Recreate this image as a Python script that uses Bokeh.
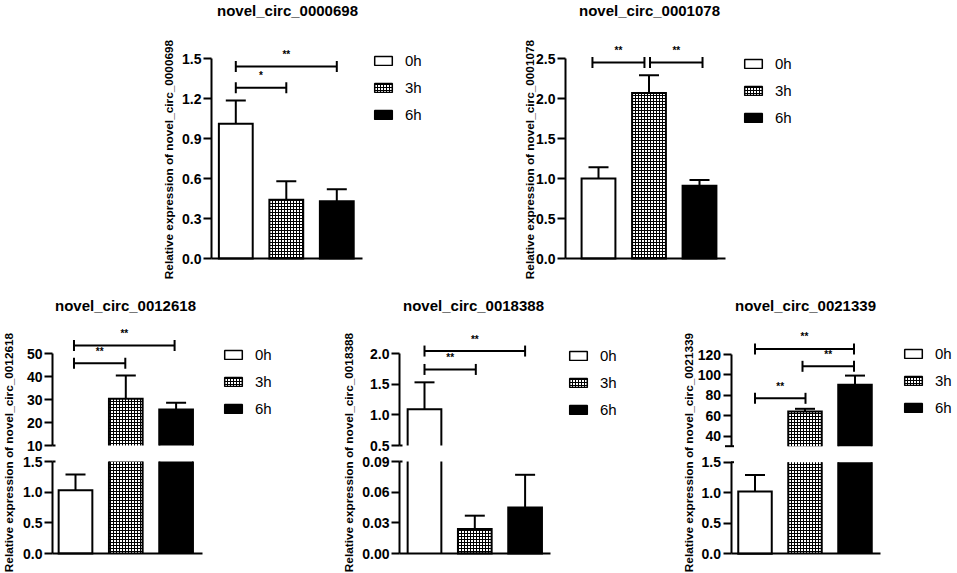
import numpy as np
from bokeh.plotting import figure
from bokeh.models import (Range1d, LinearAxis, FixedTicker, NumeralTickFormatter, Whisker,
                          TeeHead, ColumnDataSource, Legend, LegendItem)
from bokeh.core.properties import value
from bokeh.embed import file_html
from bokeh.resources import INLINE

# ---------------- data ----------------
groups = ["0h", "3h", "6h"]
group_pos = [1, 2, 3]

genes = ["novel_circ_0000698", "novel_circ_0001078", "novel_circ_0012618",
         "novel_circ_0018388", "novel_circ_0021339"]

mean_0000698 = [1.01, 0.44, 0.43]
sem_0000698 = [0.175, 0.14, 0.09]
mean_0001078 = [1.00, 2.07, 0.91]
sem_0001078 = [0.14, 0.22, 0.07]
mean_0012618 = [1.03, 30.3, 25.6]
sem_0012618 = [0.26, 10.1, 3.0]
mean_0018388 = [1.09, 0.024, 0.045]
sem_0018388 = [0.44, 0.013, 0.032]
mean_0021339 = [1.02, 64.0, 90.2]
sem_0021339 = [0.27, 2.7, 9.1]

# y ticks (broken axes: low / high segment) and their number formats
ticks_0000698 = [0, 0.3, 0.6, 0.9, 1.2, 1.5]
ticks_0001078 = [0, 0.5, 1.0, 1.5, 2.0, 2.5]
ticks_0012618_low = [0, 0.5, 1.0, 1.5]
ticks_0012618_high = [10, 20, 30, 40, 50]
ticks_0018388_low = [0, 0.03, 0.06, 0.09]
ticks_0018388_high = [0.5, 1.0, 1.5, 2.0]
ticks_0021339_low = [0, 0.5, 1.0, 1.5]
ticks_0021339_high = [40, 60, 80, 100, 120]
fmt_one = "0.0"
fmt_two = "0.00"
fmt_int = "0"

# significance brackets (from group, to group, height, label)
sig_0000698_from = [1, 1]
sig_0000698_to = [3, 2]
sig_0000698_y = [1.44, 1.28]
sig_0000698_text = ["**", "*"]
sig_0001078_from = [0.88, 2.02]
sig_0001078_to = [1.91, 3.06]
sig_0001078_y = [2.45, 2.45]
sig_0001078_text = ["**", "**"]
sig_0012618_from = [0.97, 0.97]
sig_0012618_to = [2.97, 1.99]
sig_0012618_y = [53.5, 45.8]
sig_0012618_text = ["**", "**"]
sig_0018388_from = [1, 1]
sig_0018388_to = [3, 2.02]
sig_0018388_y = [2.04, 1.74]
sig_0018388_text = ["**", "**"]
sig_0021339_from = [1, 1.95, 1]
sig_0021339_to = [2.98, 2.98, 2.01]
sig_0021339_y = [125.5, 108.4, 77.0]
sig_0021339_text = ["**", "**", "**"]

# ---------------- canvas ----------------
W, H = 957, 573
FONT = "Liberation Sans"

p = figure(width=W, height=H, output_backend="svg", toolbar_location=None,
           x_range=Range1d(0, W), y_range=Range1d(H, 0),
           x_axis_type=None, y_axis_type=None, title=None, min_border=0,
           outline_line_color=None, background_fill_color="white")

BW = 0.67
STYLES = [dict(fill_color="white"),
          dict(fill_color="white", hatch_pattern="cross", hatch_color="black",
               hatch_scale=3, hatch_weight=1),
          dict(fill_color="black")]
AXIS_STYLE = dict(axis_line_width=2, axis_line_color="black", major_tick_line_width=2,
                  major_tick_line_color="black", major_tick_in=0, major_tick_out=8,
                  minor_tick_line_color=None, major_label_standoff=2,
                  major_label_text_font=FONT, major_label_text_font_style="bold",
                  major_label_text_font_size="14px", major_label_text_color="black")


def x_range_for(c0, s):
    return Range1d(1 - c0 / s, 1 + (W - c0) / s)


def y_range_for(v0, py0, v1, py1):
    k = (py0 - py1) / (v1 - v0)
    return Range1d(v0 - (H - py0) / k, v0 + py0 / k)


def draw_panel(key, means, sems, frame, segs, sig, legend_top_left):
    c0, s, ax_px, xend_px = frame
    xr = key + "_x"
    p.extra_x_ranges[xr] = x_range_for(c0, s)
    ax_u = 1 + (ax_px - c0) / s
    xend_u = 1 + (xend_px - c0) / s
    means = np.asarray(means, float)
    uppers = means + np.asarray(sems, float)
    pos = np.asarray(group_pos, float)
    broken = len(segs) > 1
    yrs = []
    for j, (lo, py_lo, hi, py_hi, ticks, fmt) in enumerate(segs):
        yr = f"{key}_y{j}"
        yrs.append(yr)
        p.extra_y_ranges[yr] = y_range_for(lo, py_lo, hi, py_hi)
        ax = LinearAxis(x_range_name=xr, y_range_name=yr, fixed_location=ax_u, bounds=(lo, hi),
                        ticker=FixedTicker(ticks=ticks, minor_ticks=[]),
                        formatter=NumeralTickFormatter(format=fmt), **AXIS_STYLE)
        p.add_layout(ax, "left")
        if j == 0:
            xa = LinearAxis(x_range_name=xr, y_range_name=yr, fixed_location=0,
                            bounds=(ax_u, xend_u), ticker=FixedTicker(ticks=[], minor_ticks=[]),
                            axis_line_width=2, axis_line_color="black",
                            major_tick_line_color=None, minor_tick_line_color=None)
            p.add_layout(xa, "below")
        if broken:
            # break marks crossing the axis at the cut ends
            end = hi if j == 0 else lo
            out = 0 if end in ticks else 6
            p.segment(x0=[ax_u - out / s], x1=[ax_u + 3 / s], y0=[end], y1=[end],
                      line_color="black", line_width=2, x_range_name=xr, y_range_name=yr)
        # bars
        for g in range(3):
            v = means[g]
            if v <= lo:
                continue
            t = min(v, hi)
            cut_top = v > hi
            cut_bot = lo > 0
            src = ColumnDataSource(dict(x=[pos[g]], top=[t], bottom=[lo]))
            if not cut_top and not cut_bot:
                p.vbar(x="x", top="top", bottom="bottom", width=BW, source=src,
                       line_color="black", line_width=2, line_join="miter",
                       x_range_name=xr, y_range_name=yr, **STYLES[g])
            else:
                p.vbar(x="x", top="top", bottom="bottom", width=BW, source=src,
                       line_color=None, x_range_name=xr, y_range_name=yr, **STYLES[g])
                xl, xrr = pos[g] - BW / 2, pos[g] + BW / 2
                if cut_top:
                    xs = [[xl, xl], [xrr, xrr]]
                    ys = [[lo, t], [lo, t]]
                else:
                    xs = [[xl, xl, xrr, xrr]]
                    ys = [[lo, t, t, lo]]
                p.multi_line(xs, ys, line_color="black", line_width=2, line_join="miter",
                             x_range_name=xr, y_range_name=yr)
        # error bars for bars ending in this segment
        sel = (means > lo) & (means <= hi)
        if sel.any():
            esrc = ColumnDataSource(dict(x=pos[sel], lower=means[sel], upper=uppers[sel]))
            p.add_layout(Whisker(source=esrc, base="x", lower="lower", upper="upper",
                                 dimension="height", line_width=2, line_color="black",
                                 lower_head=None,
                                 upper_head=TeeHead(size=20, line_width=2, line_color="black"),
                                 x_range_name=xr, y_range_name=yr))
    # significance brackets in top segment
    f, t_, y, txt = sig
    top_yr = yrs[-1]
    bsrc = ColumnDataSource(dict(x0=f, x1=t_, y=y, xm=(np.asarray(f) + np.asarray(t_)) / 2,
                                 text=txt))
    p.add_layout(Whisker(source=bsrc, base="y", lower="x0", upper="x1", dimension="width",
                         line_width=2, line_color="black",
                         lower_head=TeeHead(size=11, line_width=2, line_color="black"),
                         upper_head=TeeHead(size=11, line_width=2, line_color="black"),
                         x_range_name=xr, y_range_name=top_yr))
    p.text(x="xm", y="y", text="text", source=bsrc, y_offset=-12, text_align="center",
           text_baseline="middle", text_font=value(FONT), text_font_style="bold",
           text_font_size="10px", text_color="black", x_range_name=xr, y_range_name=top_yr)
    # legend (hidden proxy renderers carrying the group styles)
    items = []
    for g in range(3):
        prox = p.vbar(x=[pos[g]], top=[means[g]], width=BW, line_color="black", line_width=1.5,
                      visible=False, x_range_name=xr, y_range_name=yrs[0], **STYLES[g])
        items.append(LegendItem(label=groups[g], renderers=[prox]))
    lx, ly = legend_top_left
    row_h, spacing = 20, 7
    leg_h = 3 * row_h + 2 * spacing
    bottom_px = ly - (row_h - 11) / 2 + leg_h
    leg = Legend(items=items, location=(lx, H - bottom_px), orientation="vertical",
                 glyph_width=22, glyph_height=11, label_height=row_h, spacing=spacing,
                 label_standoff=11, padding=0, margin=0, border_line_color=None,
                 background_fill_alpha=0, label_text_font=FONT, label_text_font_size="15px",
                 label_text_color="black")
    p.add_layout(leg, "center")


draw_panel("0000698", mean_0000698, sem_0000698, (235.3, 50.5, 211, 362),
           [(0, 258, 1.5, 58, ticks_0000698, fmt_one)],
           (sig_0000698_from, sig_0000698_to, sig_0000698_y, sig_0000698_text), (372, 54.5))
draw_panel("0001078", mean_0001078, sem_0001078, (598, 50.5, 565, 725),
           [(0, 258, 2.5, 58, ticks_0001078, fmt_one)],
           (sig_0001078_from, sig_0001078_to, sig_0001078_y, sig_0001078_text), (742, 58))
draw_panel("0012618", mean_0012618, sem_0012618, (75, 50.3, 52, 202),
           [(0, 553, 1.5, 461, ticks_0012618_low, fmt_one),
            (10, 445, 50, 353, ticks_0012618_high, fmt_int)],
           (sig_0012618_from, sig_0012618_to, sig_0012618_y, sig_0012618_text), (222, 349))
draw_panel("0018388", mean_0018388, sem_0018388, (424, 50.3, 399, 550),
           [(0, 553, 0.09, 461, ticks_0018388_low, fmt_two),
            (0.5, 445, 2.0, 353, ticks_0018388_high, fmt_one)],
           (sig_0018388_from, sig_0018388_to, sig_0018388_y, sig_0018388_text), (567, 350))
draw_panel("0021339", mean_0021339, sem_0021339, (754.5, 50.0, 730.5, 880),
           [(0, 553.3, 1.5, 461.7, ticks_0021339_low, fmt_one),
            (30, 445.7, 120, 354, ticks_0021339_high, fmt_int)],
           (sig_0021339_from, sig_0021339_to, sig_0021339_y, sig_0021339_text), (902, 348))

# titles and y-axis titles
title_x = [287, 649, 125, 473, 805]
title_y = [10, 10, 305, 305, 305]
p.text(x=title_x, y=title_y, text=genes, text_align="center", text_baseline="middle",
       text_font=value(FONT), text_font_style="bold", text_font_size="15px", text_color="black")
ylab_x = [168, 529, 8, 348, 688]
ylab_y = [159, 159, 452, 452, 452]
p.text(x=ylab_x, y=ylab_y, text=["Relative expression of " + g for g in genes], angle=np.pi / 2,
       text_align="center", text_baseline="middle", text_font=value(FONT),
       text_font_style="bold", text_font_size="11.8px", text_color="black")

open("out.html", "w").write(file_html(p, INLINE))
